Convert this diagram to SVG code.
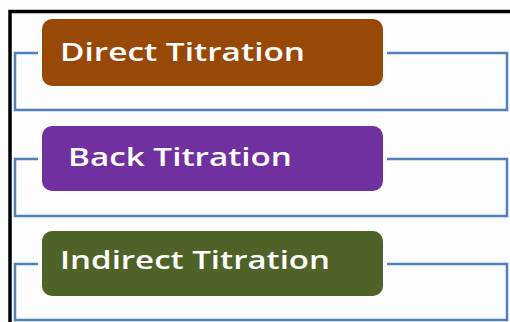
<svg xmlns="http://www.w3.org/2000/svg" width="510" height="322" viewBox="0 0 510 322">
  <style>
    .frame { fill: none; stroke: #000; stroke-width: 3.5; }
    .link { fill: none; stroke: #4f81bd; stroke-width: 2.5; }
    .label { font-family: "Open Sans", "Liberation Sans", sans-serif; font-weight: 600; font-size: 26px; fill: #fff; }
  </style>
  <rect width="510" height="322" fill="#fdfdfd"/>
  <!-- outer frame -->
  <rect class="frame" x="10" y="11.5" width="520" height="330"/>

  <g id="connectors">
    <path class="link" d="M38 53 H15 V110 H507 V53 H387"/>
    <path class="link" d="M38 159 H15 V216 H507 V159 H387"/>
    <path class="link" d="M38 264 H15 V320 H507 V264 H387"/>
  </g>

  <g id="direct-titration">
    <rect x="42" y="19" width="341" height="67" rx="10" fill="#984807"/>
    <text class="label" x="60" y="60.5" textLength="245" lengthAdjust="spacingAndGlyphs">Direct Titration</text>
  </g>
  <g id="back-titration">
    <rect x="42" y="126" width="341" height="65" rx="10" fill="#7030a0"/>
    <text class="label" x="68" y="165.5" textLength="224" lengthAdjust="spacingAndGlyphs">Back Titration</text>
  </g>
  <g id="indirect-titration">
    <rect x="42" y="231" width="341" height="65" rx="10" fill="#4f6228"/>
    <text class="label" x="60" y="269" textLength="270" lengthAdjust="spacingAndGlyphs">Indirect Titration</text>
  </g>
</svg>
